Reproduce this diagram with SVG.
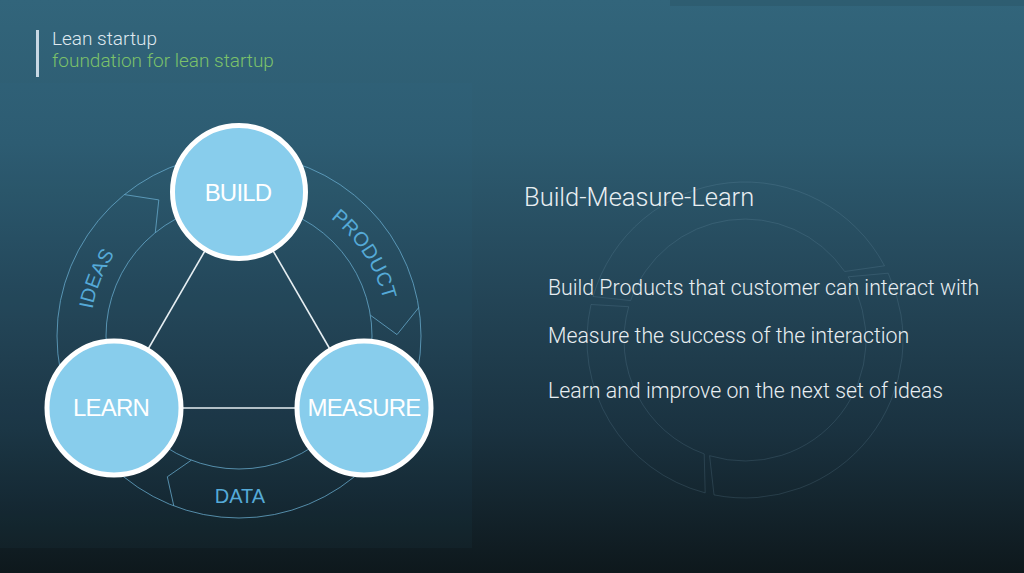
<svg xmlns="http://www.w3.org/2000/svg" width="1024" height="573" viewBox="0 0 1024 573">
  <defs>
    <linearGradient id="bg" x1="0" y1="0" x2="0" y2="1">
      <stop offset="0" stop-color="#32657b"/>
      <stop offset="0.25" stop-color="#2d5b70"/>
      <stop offset="0.5" stop-color="#244658"/>
      <stop offset="0.75" stop-color="#1a3240"/>
      <stop offset="1" stop-color="#0e181c"/>
    </linearGradient>
    <path id="ideasArc" d="M99,387 A149,149 0 0 1 213.1,189.3"/>
    <path id="productArc" d="M264.9,189.3 A149,149 0 0 1 379,387"/>
  </defs>
  <style>
    .ring { fill: none; stroke: #6aaed0; stroke-opacity: 0.75; stroke-width: 1; }
    .faint { fill: none; stroke: #7fa9bd; stroke-opacity: 0.18; stroke-width: 1; }
    .edge { stroke: #e6eef2; stroke-width: 1.6; }
    .node { fill: #88cdec; stroke: #ffffff; stroke-width: 5; }
    .nlabel { font-family: "Liberation Sans", Arial, sans-serif; font-size: 24px; letter-spacing: -0.8px; fill: #ffffff; text-anchor: middle; }
    .alabel { font-family: "Liberation Sans", Arial, sans-serif; font-size: 20px; fill: #55aad8; }
    .light { font-family: Roboto, "Liberation Sans", sans-serif; font-weight: 300; }
  </style>

  <rect x="0" y="0" width="1024" height="573" fill="url(#bg)"/>
  <rect x="670" y="0" width="354" height="6" fill="#28505f" opacity="0.35"/>
  <rect x="0" y="83" width="472" height="465" fill="#3a7ea0" opacity="0.06"/>

  <g id="header">
    <rect x="36" y="30" width="3" height="47" fill="#c8d8e4"/>
    <text class="light" x="52" y="45" font-size="19" fill="#dfe8ef">Lean startup</text>
    <text class="light" x="52" y="67" font-size="19" fill="#7cc26a">foundation for lean startup</text>
  </g>

  <g id="bg-ring">
    <path class="faint" d="M593.1,296.5 A158,158 0 0 1 884.5,265.8 L844.7,271.5 A121,121 0 0 0 630.6,300.6 Z"/>
    <path class="faint" d="M888.2,273.2 A158,158 0 0 1 714,494.9 L709.6,455.7 A121,121 0 0 0 848.2,276.8 Z"/>
    <path class="faint" d="M705.2,492.9 A158,158 0 0 1 591,304.5 L628.7,306.7 A121,121 0 0 0 704.2,453.9 Z"/>
  </g>

  <g id="cycle-ring">
    <circle class="ring" cx="239" cy="336" r="182"/>
    <circle class="ring" cx="239" cy="336" r="133"/>
    <polyline class="ring" points="124.5,194.6 158.8,199.9 155.3,232.6"/>
    <polyline class="ring" points="418.8,307.5 397,334.6 370.4,315.2"/>
    <polyline class="ring" points="173.8,505.9 167.3,476.8 191.3,460.2"/>
  </g>

  <g id="arc-labels">
    <text class="alabel"><textPath href="#ideasArc" startOffset="109" text-anchor="middle">IDEAS</textPath></text>
    <text class="alabel"><textPath href="#productArc" startOffset="122" text-anchor="middle">PRODUCT</textPath></text>
    <text class="alabel" x="240" y="503" text-anchor="middle">DATA</text>
  </g>

  <g id="connectors">
    <line class="edge" x1="239" y1="192" x2="114" y2="408"/>
    <line class="edge" x1="239" y1="192" x2="364" y2="408"/>
    <line class="edge" x1="114" y1="408" x2="364" y2="408"/>
  </g>

  <g id="node-build">
    <circle class="node" cx="239" cy="192" r="66.5"/>
    <text class="nlabel" x="238" y="201">BUILD</text>
  </g>
  <g id="node-learn">
    <circle class="node" cx="114" cy="408" r="67"/>
    <text class="nlabel" x="111" y="416">LEARN</text>
  </g>
  <g id="node-measure">
    <circle class="node" cx="364" cy="408" r="67"/>
    <text class="nlabel" x="364" y="416">MEASURE</text>
  </g>

  <g id="text-panel">
    <text class="light" x="524" y="206" font-size="25.5" fill="#e8eef2">Build-Measure-Learn</text>
    <text class="light" x="548" y="295" font-size="21.3" fill="#e8eef2">Build Products that customer can interact with</text>
    <text class="light" x="548" y="343" font-size="21.3" fill="#e8eef2">Measure the success of the interaction</text>
    <text class="light" x="548" y="398" font-size="21.3" fill="#e8eef2">Learn and improve on the next set of ideas</text>
  </g>
</svg>
